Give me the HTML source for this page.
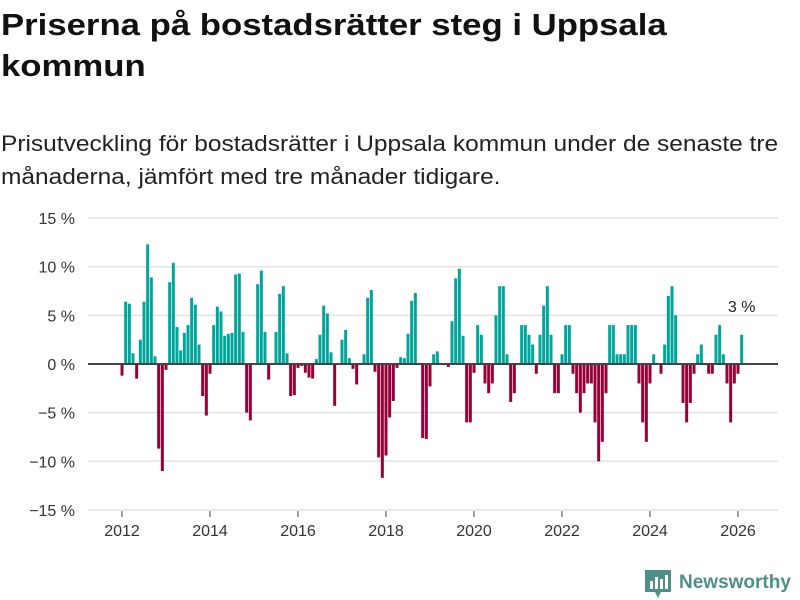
<!DOCTYPE html>
<html><head><meta charset="utf-8">
<style>
body{margin:0;width:800px;height:600px;background:#fff;font-family:"Liberation Sans",sans-serif;overflow:hidden;position:relative}
h1{position:absolute;left:1px;top:4px;margin:0;font-size:31px;line-height:41px;font-weight:bold;color:#111;white-space:nowrap;transform:scaleX(1.12);transform-origin:0 0}
p.sub{position:absolute;left:1px;top:127px;margin:0;font-size:22px;line-height:33px;color:#222;white-space:nowrap;transform:scaleX(1.113);transform-origin:0 0}
#logo{position:absolute;left:645px;top:568px;display:flex;align-items:center}
#logo span{font-size:19px;font-weight:bold;color:#4f8f89;margin-left:8px}
</style></head><body>
<h1>Priserna på bostadsrätter steg i Uppsala<br>kommun</h1>
<p class="sub">Prisutveckling för bostadsrätter i Uppsala kommun under de senaste tre<br>månaderna, jämfört med tre månader tidigare.</p>
<svg id="chart" width="800" height="600" style="position:absolute;left:0;top:0"></svg>
<div id="logo">
<svg width="26" height="30" viewBox="0 0 26 30"><path d="M0 2h26v22H16l-3 6-3-6H0z" fill="#4f8f89"/><rect x="5" y="13" width="3" height="8" fill="#fff"/><rect x="10" y="9" width="3" height="12" fill="#fff"/><rect x="15" y="11" width="3" height="10" fill="#fff"/><rect x="20" y="7" width="3" height="14" fill="#fff"/></svg>
<span>Newsworthy</span></div>
<script>
const startYear = 2012;
const values = [-1.2,6.4,6.2,1.1,-1.5,2.5,6.4,12.3,8.9,0.8,-8.7,-11,-0.6,8.4,10.4,3.8,1.4,3.2,4,6.8,6.1,2,-3.3,-5.3,-1,4,5.9,5.4,2.9,3.1,3.2,9.2,9.3,3.3,
-5.0,-5.8,0,8.2,9.6,3.3,-1.6,0,3.3,7.2,8.0,1.1,-3.3,-3.2,-0.4,-0.2,-0.9,-1.4,-1.5,0.5,3.0,6.0,5.2,1.2,-4.3,0,2.5,3.5,0.6,-0.5,-2.1,0,1.0,6.8,7.6,
-0.8,-9.6,-11.7,-9.4,-5.5,-3.8,-0.4,0.7,0.6,3.1,6.5,7.3,0,-7.6,-7.7,-2.3,1.0,1.3,0,0,-0.3,4.4,8.8,9.8,2.9,-6,-6,-0.9,4,3,-2,-3,-2,5,8,
8,1,-3.9,-3,0,4,4,3,2,-1,3,6,8,3,-3,-3,1,4,4,-1,-3,-5,-3,-2,-2,-6,-10,-8,-3,4,4,1,1,1,4,4,4,-2,-6,-8,-2,1,0,-1,2,7,8,5,0,-4,-6,-4,-1,1,2,0,-1,-1,3,4,1,-2,-6,-2,-1,3];
const yTicks = [15,10,5,0,-5,-10,-15];
const yTickLabels = ["15 %","10 %","5 %","0 %","−5 %","−10 %","−15 %"];
const xTicks = [2012,2014,2016,2018,2020,2022,2024,2026];
const lastLabel = "3 %";

const svg = document.getElementById('chart');
const NS = 'http://www.w3.org/2000/svg';
const y = v => 364 - v * 9.73;
const x = m => 122 + m * (44/12);
const xYear = yr => 122 + (yr - startYear) * 44;
function mk(tag, attrs){const e=document.createElementNS(NS,tag);for(const k in attrs)e.setAttribute(k,attrs[k]);svg.appendChild(e);return e;}

yTicks.forEach((t,i)=>{
  const g = mk('line',{x1:88,x2:778,y1:y(t),y2:y(t),stroke:'#e3e3e3','stroke-width':1.5});
  
  
  const l = mk('text',{x:75,y:y(t)+6,'text-anchor':'end','font-size':16,fill:'#333','font-family':'Liberation Sans, sans-serif'});
  l.textContent = yTickLabels[i];
  
  
});
values.forEach((v,i)=>{
  const cx = x(i);
  const r = mk('rect',{x:cx-1.5,width:3,y:Math.min(y(v),y(0)),height:Math.abs(y(v)-y(0)),fill:v>=0?'#00a59b':'#98003a'});
  
  
});
const z = mk('line',{x1:88,x2:778,y1:y(0),y2:y(0),stroke:'#444','stroke-width':2});


xTicks.forEach(t=>{
  const tk = mk('line',{x1:xYear(t),x2:xYear(t),y1:511,y2:517,stroke:'#444','stroke-width':1});
  
  
  const l = mk('text',{x:xYear(t),y:536,'text-anchor':'middle','font-size':16,fill:'#333','font-family':'Liberation Sans, sans-serif'});
  l.textContent = t;
  
  
});
const last = values.length-1;
const a = mk('text',{x:x(last),y:y(values[last])-23,'text-anchor':'middle','font-size':16,fill:'#222','font-family':'Liberation Sans, sans-serif'});
a.textContent = lastLabel;


</script>
</body></html>
